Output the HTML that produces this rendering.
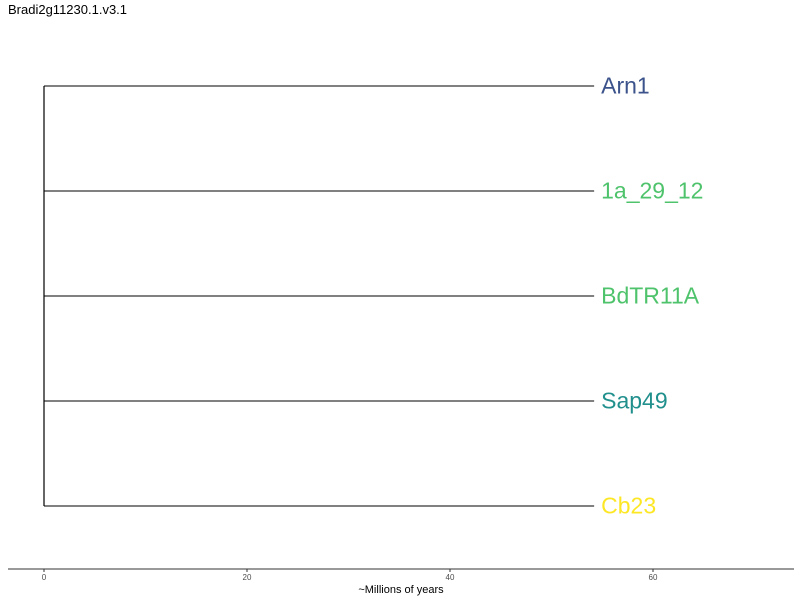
<!DOCTYPE html>
<html><head><meta charset="utf-8"><style>
body{margin:0;background:#fff;width:800px;height:600px;overflow:hidden;font-family:"Liberation Sans",sans-serif}
</style></head><body>
<svg id="chart" width="800" height="600" xmlns="http://www.w3.org/2000/svg">
<text x="8" y="14" font-size="13" fill="#000">Bradi2g11230.1.v3.1</text>
<line x1="8" y1="569" x2="794" y2="569" stroke="#333" stroke-width="1.1"/>
<text x="401" y="593" font-size="11" text-anchor="middle" fill="#000">~Millions of years</text>
</svg>
<script>
const taxa=["Arn1","1a_29_12","BdTR11A","Sap49","Cb23"];
const branchLengths=[54.2,54.2,54.2,54.2,54.2];
const colors=["#3b528b","#4ec36b","#4ec36b","#21908d","#fde725"];
const ticks=[0,20,40,60];
const svg=document.getElementById('chart');
const NS="http://www.w3.org/2000/svg";
const xs=v=>44+v*10.15;
const ys=i=>86+i*105;
function mk(t,a){const e=document.createElementNS(NS,t);for(const k in a)e.setAttribute(k,a[k]);svg.appendChild(e);return e;}
ticks.forEach(t=>{
 const l=mk('line',{x1:xs(t),x2:xs(t),y1:569,y2:572,stroke:'#333'});
 
 
 const tx=mk('text',{x:xs(t),y:580,'font-size':8,'text-anchor':'middle',fill:'#4d4d4d'});
 tx.textContent=t;
 
 
});
const v=mk('line',{x1:xs(0),x2:xs(0),y1:ys(0),y2:ys(taxa.length-1),stroke:'#000','stroke-width':1.2});


taxa.forEach((n,i)=>{
 const l=mk('line',{x1:xs(0),x2:xs(branchLengths[i]),y1:ys(i),y2:ys(i),stroke:'#000','stroke-width':1.1});
 
 
 const t=mk('text',{x:xs(branchLengths[i])+7,y:ys(i)+7.5,'font-size':23,fill:colors[i]});
 t.textContent=n;
 
 
});
</script>
</body></html>
